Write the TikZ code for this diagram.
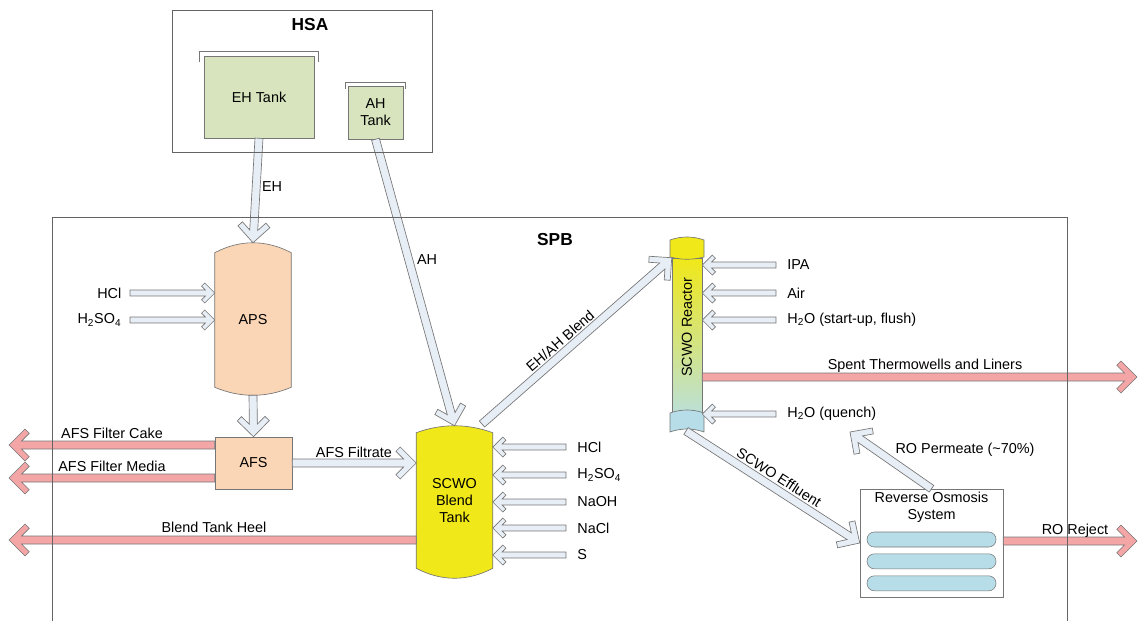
\documentclass[tikz,border=0pt]{standalone}
\usepackage{fontspec}
\setmainfont{Liberation Sans}
\usetikzlibrary{calc,positioning,backgrounds}

\definecolor{pipeblue}{RGB}{231,238,246}
\definecolor{pipeline}{RGB}{118,118,118}
\definecolor{wastepink}{RGB}{244,166,166}
\definecolor{tankgreen}{RGB}{215,228,189}
\definecolor{vesselpeach}{RGB}{250,214,182}
\definecolor{blendyellow}{RGB}{240,232,24}
\definecolor{roblue}{RGB}{183,221,232}
\definecolor{framegray}{RGB}{100,100,100}

\tikzset{
  bigtip/.style={/utils/exec={\def\aw{3pt}\def\ah{12pt}\def\ad{9.4pt}\def\ab{15.2pt}\def\ao{8.8pt}}},
  smalltip/.style={/utils/exec={\def\aw{2.2pt}\def\ah{7.5pt}\def\ad{7pt}\def\ab{9.9pt}\def\ao{5.1pt}}},
  pipe/.style={draw=pipeline, fill=pipeblue, line width=0.5pt, line join=miter, bigtip},
  waste/.style={fill=wastepink},
  tankbox/.style={draw=pipeline, fill=tankgreen, align=center},
  vessel/.style={align=center},
  rim/.style={draw=pipeline, line width=0.8pt},
  frame/.style={draw=framegray, line width=0.6pt},
  tube/.style={draw=pipeline, fill=roblue, rounded corners=5.5pt, minimum width=96.75pt, minimum height=11.25pt},
}

% fat outlined arrow: start, tip
\newcommand{\fatarrow}[3][]{%
  \filldraw[pipe,#1]
    ($(#2)!\aw!90:(#3)$) -- ($(#3)!\ad!(#2)!\aw!90:(#3)$)
    -- ($(#3)!\ab!(#2)!\ao!90:(#3)$) -- ($(#3)!\ah!(#2)!\ah!90:(#3)$)
    -- (#3)
    -- ($(#3)!\ah!(#2)!\ah!-90:(#3)$) -- ($(#3)!\ab!(#2)!\ao!-90:(#3)$)
    -- ($(#3)!\ad!(#2)!\aw!-90:(#3)$) -- ($(#2)!\aw!-90:(#3)$) -- cycle;}

% domed vessel round a node: name, colour, top rise, bottom drop
\newcommand{\vessel}[4]{%
  \filldraw[draw=pipeline, line width=0.5pt, fill=#2]
    (#1.north west) .. controls ($(#1.north west)!0.33!(#1.north east)+(0,-#3)$)
      and ($(#1.north west)!0.67!(#1.north east)+(0,-#3)$) .. (#1.north east)
    -- (#1.south east) .. controls ($(#1.south west)!0.67!(#1.south east)+(0,#4)$)
      and ($(#1.south west)!0.33!(#1.south east)+(0,#4)$) .. (#1.south west) -- cycle;}

\begin{document}
\begin{tikzpicture}[x=0.75pt, y=-0.75pt, font=\fontsize{10.8}{12.8}\selectfont]
\useasboundingbox (0,0) rectangle (1138,621);

% HSA tanks
\node[tankbox, minimum width=82.5pt, minimum height=61.5pt] (ehtank) at (259,97) {EH Tank};
\node[tankbox, minimum width=41.25pt, minimum height=39.75pt] (ahtank) at (375.5,112.5) {AH\\Tank};
\draw[rim] ([shift={(-4,6)}]ehtank.north west) -- ++(0,-10) -- ([shift={(4,-4)}]ehtank.north east) -- ++(0,10);
\draw[rim] ([shift={(-2,3)}]ahtank.north west) -- ++(0,-6) -- ([shift={(2,-3)}]ahtank.north east) -- ++(0,6);
\node[font=\fontsize{13}{15}\selectfont\bfseries] (hsa) at (310,25) {HSA};

% SPB units
\node[font=\fontsize{13}{15}\selectfont\bfseries] (spb) at (555,240) {SPB};
\node[vessel, minimum width=57pt, minimum height=100.5pt] (aps) at (253,320) {APS};
\node[draw=pipeline, fill=vesselpeach, minimum width=57.75pt, minimum height=39pt] (afs) at (253.5,463) {AFS};
\node[vessel, minimum width=57pt, minimum height=101.25pt] (blend) at (454.5,500.5) {SCWO\\Blend\\Tank};
\node[draw=pipeline, top color=blendyellow, bottom color={rgb,255:red,188;green,224;blue,214},
  minimum width=22.5pt, minimum height=115.5pt] (reactor) at (687,335) {};
\node[rotate=90] (reactortxt) at (687,327) {SCWO Reactor};
\node[draw=pipeline, minimum width=107.25pt, minimum height=81pt] (ro) at (931.5,543) {};
\node[below=0pt of ro.north, align=center, inner sep=2.5pt] (rotxt) {Reverse Osmosis\\System};
\node[tube] (tube1) at (931.5,539.5) {};
\node[tube] (tube2) at (931.5,561.3) {};
\node[tube] (tube3) at (931.5,583.3) {};

\begin{scope}[on background layer]
  \vessel{aps}{vesselpeach}{13.3}{10.7}
  \vessel{blend}{blendyellow}{9.3}{13.3}
\end{scope}
% reactor end caps
\filldraw[draw=pipeline, line width=0.5pt, fill=blendyellow] (670,240) .. controls (681,236) and (693,236) .. (704,240)
  -- (704,257) .. controls (693,260) and (681,260) .. (670,257) -- cycle;
\filldraw[draw=pipeline, line width=0.5pt, fill=roblue] (670,413) .. controls (681,409) and (693,409) .. (704,413)
  -- (704,432) .. controls (693,428) and (681,428) .. (670,432) -- cycle;

% free ends
\coordinate (apstop) at ($(aps.north)+(0,-10)$);
\coordinate (apsbot) at ($(aps.south)+(0,8)$);
\coordinate (blendtop) at ($(blend.north)+(0,-7)$);
\coordinate (blendout) at (482,424);
\coordinate (reactorout) at (686,431);
\coordinate (permtip) at (850,432);
\coordinate (hclA) at (130,293);
\coordinate (hsoA) at (130,320);
\coordinate (hclB) at (566,447);
\coordinate (hsoB) at (566,475);
\coordinate (naoh) at (566,502);
\coordinate (nacl) at (566,528);
\coordinate (sulf) at (566,555);
\coordinate (ipa) at (776,265);
\coordinate (air) at (776,293);
\coordinate (water) at (776,320);
\coordinate (quench) at (776,414);
\coordinate (cake) at (9,445);
\coordinate (media) at (9,478);
\coordinate (heel) at (9,540);
\coordinate (spent) at (1137,377);
\coordinate (reject) at (1137,541);

% feed streams
\fatarrow{ehtank.south}{apstop}
\fatarrow{ahtank.south}{blendtop}
\fatarrow{apsbot}{afs.north}
\fatarrow{afs.east}{blend.west |- afs.east}
\fatarrow{blendout}{reactor.north west}
\fatarrow{reactorout}{ro.west}
\fatarrow{ro.north}{permtip}
\fatarrow[smalltip]{hclA}{aps.west |- hclA}
\fatarrow[smalltip]{hsoA}{aps.west |- hsoA}
\fatarrow[smalltip]{hclB}{blend.east |- hclB}
\fatarrow[smalltip]{hsoB}{blend.east |- hsoB}
\fatarrow[smalltip]{naoh}{blend.east |- naoh}
\fatarrow[smalltip]{nacl}{blend.east |- nacl}
\fatarrow[smalltip]{sulf}{blend.east |- sulf}
\fatarrow[smalltip]{ipa}{reactor.east |- ipa}
\fatarrow[smalltip]{air}{reactor.east |- air}
\fatarrow[smalltip]{water}{reactor.east |- water}
\fatarrow[smalltip]{quench}{reactor.east |- quench}
% waste streams
\fatarrow[waste]{afs.west |- cake}{cake}
\fatarrow[waste]{afs.west |- media}{media}
\fatarrow[waste]{blend.west |- heel}{heel}
\fatarrow[waste]{reactor.east |- spent}{spent}
\fatarrow[waste]{ro.east |- reject}{reject}

% stream labels
\node (ehlbl) at (272,187) {EH};
\node (ahlbl) at (427,260) {AH};
\node[left=3pt of hclA] (hclAlbl) {HCl};
\node[left=3pt of hsoA] (hsoAlbl) {H\textsubscript{2}SO\textsubscript{4}};
\node[right=5pt of hclB] (hclBlbl) {HCl};
\node[right=5pt of hsoB] (hsoBlbl) {H\textsubscript{2}SO\textsubscript{4}};
\node[right=5pt of naoh] (naohlbl) {NaOH};
\node[right=5pt of nacl] (nacllbl) {NaCl};
\node[right=5pt of sulf] (sulflbl) {S};
\node[right=5pt of ipa] (ipalbl) {IPA};
\node[right=5pt of air] (airlbl) {Air};
\node[right=5pt of water] (waterlbl) {H\textsubscript{2}O (start-up, flush)};
\node[right=5pt of quench] (quenchlbl) {H\textsubscript{2}O (quench)};
\node (filtratelbl) at (354,452) {AFS Filtrate};
\node (cakelbl) at (112,433) {AFS Filter Cake};
\node (medialbl) at (112,466) {AFS Filter Media};
\node (heellbl) at (214,527) {Blend Tank Heel};
\node (spentlbl) at (925,366) {Spent Thermowells and Liners};
\node (permlbl) at (965,450) {RO Permeate (\textasciitilde70\%)};
\node (rejectlbl) at (1075,531) {RO Reject};
\path (blendout) -- node[sloped, above=3pt, pos=0.45, inner sep=1pt] (blendlbl) {EH/AH Blend} (reactor.north west);
\path (reactorout) -- node[sloped, above=3.5pt, pos=0.5, inner sep=1pt] (effluentlbl) {SCWO Effluent} (ro.west);

% building outlines
\draw[frame] (172,10) rectangle (432,152);
\draw[frame] (52,621) -- (52,217) -- (1067,217) -- (1067,621);
\end{tikzpicture}
\end{document}
